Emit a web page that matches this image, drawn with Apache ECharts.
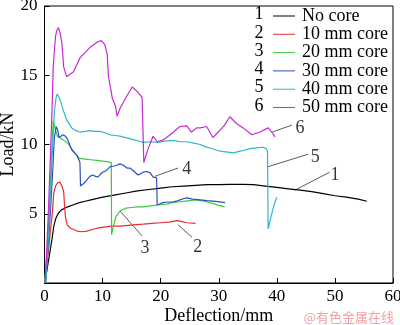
<!DOCTYPE html>
<html><head><meta charset="utf-8">
<script src="https://cdn.jsdelivr.net/npm/echarts@6/dist/echarts.min.js"></script>
<style>html,body{margin:0;padding:0;background:#fff}#c{width:400px;height:325px}</style>
</head><body><div id="c"></div>
<script>
// ---- data ----
const seriesNames = ['No core','10 mm core','20 mm core','30 mm core','40 mm core','50 mm core'];
const seriesNums = ['1','2','3','4','5','6'];
const xTicks = [0,10,20,30,40,50,60];
const yTicks = [0,5,10,15,20];

const x1 = [0,0.3,0.6,1.0,1.3,1.6,1.9,2.2,2.6,3.0,3.5,4,5,6,7,8,10,12,14,16,18,20,22,24,26,28,30,32,34,36,38,40,42,44,46,48,50,52,54,55.5];
const y1 = [0,0.6,1.4,2.4,3.2,4.1,4.6,4.9,5.15,5.3,5.4,5.5,5.65,5.8,5.9,6.0,6.2,6.35,6.5,6.65,6.75,6.85,6.95,7.0,7.05,7.1,7.1,7.12,7.12,7.1,7.0,6.9,6.8,6.7,6.6,6.45,6.3,6.2,6.05,5.9];

const x2 = [0,0.4,0.8,1.0,1.3,1.6,1.9,2.2,2.6,3.0,3.3,3.45,3.6,3.9,4.5,5.6,6.5,7.3,8.5,9.6,11.5,13,15.3,17,18.5,20,21.5,22.8,23.5,24.5,26];
const y2 = [0,1.3,2.8,3.7,4.8,6.5,7.0,7.2,7.3,7.0,6.6,5.6,4.8,4.2,3.95,3.75,3.7,3.75,3.9,4.0,4.1,4.1,4.2,4.25,4.3,4.35,4.4,4.5,4.45,4.35,4.3];

const x3 = [0,0.3,0.6,0.9,1.2,1.5,1.8,2.2,3,4,5,6,7,8,9,10,11,11.5,11.55,11.8,12.3,13,14,15,16,17,18,19,20,21,22,23,24,25,26,27,28,29,30,31];
const y3 = [0,1.5,3.5,6,9,11.7,11.2,10.6,10.4,10.1,9.5,9.0,8.95,8.9,8.85,8.8,8.75,8.7,3.5,4.0,4.8,5.2,5.4,5.45,5.5,5.5,5.55,5.6,5.65,5.7,5.8,5.85,5.9,5.95,6.0,5.95,5.85,5.75,5.6,5.5];

const x4 = [0.2,0.6,1.0,1.4,1.7,2.0,2.3,2.5,2.8,3.2,3.6,4.0,4.7,5.2,5.6,6.1,6.2,6.8,7.3,7.8,8.3,8.8,9.2,9.6,10.0,10.6,11.3,12.0,12.4,13,13.6,14.2,14.7,15.3,16.1,16.6,17.0,17.6,18.2,18.7,19.3,19.4,19.8,20.4,21.2,22.1,23.0,24.0,24.5,25.5,26.8,28,29.5,31.1];
const y4 = [0,2.5,5,8,10.5,11.3,11.0,10.5,10.6,10.7,10.6,10.35,9.6,9.4,9.2,8.7,7.0,7.2,7.45,7.7,7.8,7.7,7.65,7.85,8.0,8.1,8.4,8.45,8.5,8.6,8.5,8.3,8.3,8.1,7.8,7.9,8.0,8.05,7.95,7.65,7.6,5.65,5.7,5.8,5.85,5.85,5.95,6.1,6.15,6.05,6.0,5.95,5.9,5.8];

const x5 = [0.2,0.5,0.8,1.1,1.4,1.7,2.0,2.2,2.5,2.7,3.2,3.8,4.7,5.4,6.1,7.0,7.8,8.6,9.5,10.4,11.3,12.2,13,14,15.3,16.2,17,18.2,19.4,20.8,22.2,23.4,24.5,25.7,26.8,27.6,28.5,29.5,30.5,31.5,32.5,33.5,34.5,35.4,36.5,37.6,38.2,38.4,38.5,39.0,39.5,40.0];
const y5 = [0,2,4.5,7,10,12.4,13.4,13.65,13.4,13.2,12.5,11.8,11.2,11.0,10.9,10.95,11.0,10.95,10.95,10.85,10.7,10.65,10.6,10.5,10.35,10.25,10.15,10.2,10.15,10.25,10.3,10.2,10.2,10.1,10.0,9.85,9.75,9.6,9.5,9.45,9.4,9.5,9.6,9.7,9.75,9.8,9.7,9.5,3.9,4.8,5.6,6.2];

const x6 = [0.1,0.4,0.7,1.0,1.3,1.5,1.7,1.9,2.1,2.4,2.7,3.0,3.3,3.8,5.0,6.1,7.8,9.1,9.8,10.4,10.8,11.0,11.7,12.2,12.5,13.0,13.9,15.1,15.9,16.8,17.0,17.1,17.8,18.7,19.4,20.5,21.3,22.2,23.3,24.5,25.3,26.2,26.8,27.9,29.0,29.9,31.0,31.9,33.1,34.2,35.7,37.1,38.5,39.2,39.7];
const y6 = [0,2.5,5.5,9,12.5,15.6,16.8,17.8,18.2,18.45,18.0,17.3,15.6,14.9,15.25,16.25,17.0,17.4,17.5,17.2,16.5,14.95,13.3,12.8,12.05,12.6,13.3,14.15,13.85,13.4,13.3,8.7,9.65,10.6,10.2,10.35,10.6,10.9,11.3,11.35,10.9,11.2,11.2,11.3,10.5,10.9,11.4,12.0,11.5,11.2,10.7,10.9,11.2,10.85,10.55];

// leader lines (data coords) and their number labels
const leaderFrom = [[43.1,6.7],[23.0,4.2],[13.0,5.2],[19.0,7.7],[38.5,8.4],[39.2,10.9]];
const leaderTo   = [[49.1,8.0],[25.4,3.3],[16.8,3.4],[23.0,8.3],[45.4,9.3],[42.6,11.4]];
const leaderLbl  = [[50.0,7.8],[26.4,2.6],[17.3,2.5],[24.5,8.2],[46.6,9.1],[44.0,11.2]];

const colors = ['#000000','#e2302c','#3ec83e','#2a50c0','#30b6c8','#c62ad0'];
const xs = [x1,x2,x3,x4,x5,x6];
const ys = [y1,y2,y3,y4,y5,y6];

const FONT = '"Liberation Serif","Times New Roman",serif';
const chart = echarts.init(document.getElementById('c'));

const series = seriesNames.map((n,i)=>({
  name:n, type:'line', symbol:'none', z:3,
  data: xs[i].map((v,j)=>[v, ys[i][j]]),
  lineStyle:{color:colors[i], width:1.2}, itemStyle:{color:colors[i]}
}));
leaderFrom.forEach((p,i)=>{
  series.push({type:'line', symbol:'none', silent:true, z:2,
    data:[p, leaderTo[i]], lineStyle:{color:'#333', width:0.8}});
});
series.push({type:'scatter', symbolSize:0, silent:true,
  data: leaderLbl.map((p,i)=>({value:p, label:{show:true, formatter: seriesNums[i], position:'inside',
     color:'#000', fontFamily:FONT, fontSize:18}}))});

const legendRows = seriesNums.map((t,i)=>({type:'text', x:259, y:14.5+i*18.3,
  style:{text:t, fill:'#000', font:'18px '+FONT, textAlign:'center', textVerticalAlign:'middle'}}));
legendRows.push({type:'text', right:6, bottom:1,
  style:{text:'@有色金属在线', fill:'#f2a0a0', font:'13px "Noto Sans CJK SC"'}});

chart.setOption({
  animation:false,
  backgroundColor:'#fff',
  grid:{left:44.5, right:7, top:6, bottom:42, show:true, borderColor:'#000', borderWidth:1,
        containLabel:false, outerBoundsMode:'none'},
  legend:{orient:'vertical', left:268, top:2, itemWidth:22, itemHeight:18, itemGap:0.3,
    data:seriesNames, icon:'path://M0,9 L22,9 L22,10 L0,10 Z',
    textStyle:{fontFamily:FONT, fontSize:18, color:'#000', lineHeight:18, padding:[0,0,0,2]}},
  xAxis:{type:'value', min:xTicks[0], max:xTicks[xTicks.length-1], interval:10,
    name:'Deflection/mm', nameLocation:'middle', nameGap:24, nameMoveOverlap:false,
    nameTextStyle:{fontFamily:FONT, fontSize:18, color:'#000'},
    axisLine:{lineStyle:{color:'#000'}}, axisTick:{inside:true, length:5, lineStyle:{color:'#000'}},
    axisLabel:{fontFamily:FONT, fontSize:17, color:'#000', margin:5}, splitLine:{show:false}},
  yAxis:{type:'value', min:yTicks[0], max:yTicks[yTicks.length-1], interval:5,
    name:'Load/kN', nameLocation:'middle', nameGap:36, nameMoveOverlap:false,
    nameTextStyle:{fontFamily:FONT, fontSize:18, color:'#000', verticalAlign:'middle'},
    axisLine:{show:true, lineStyle:{color:'#000'}}, axisTick:{show:true, inside:true, length:5, lineStyle:{color:'#000'}},
    axisLabel:{fontFamily:FONT, fontSize:17, color:'#000', margin:7, showMinLabel:false}, splitLine:{show:false}},
  graphic: legendRows,
  series: series
});
</script></body></html>
